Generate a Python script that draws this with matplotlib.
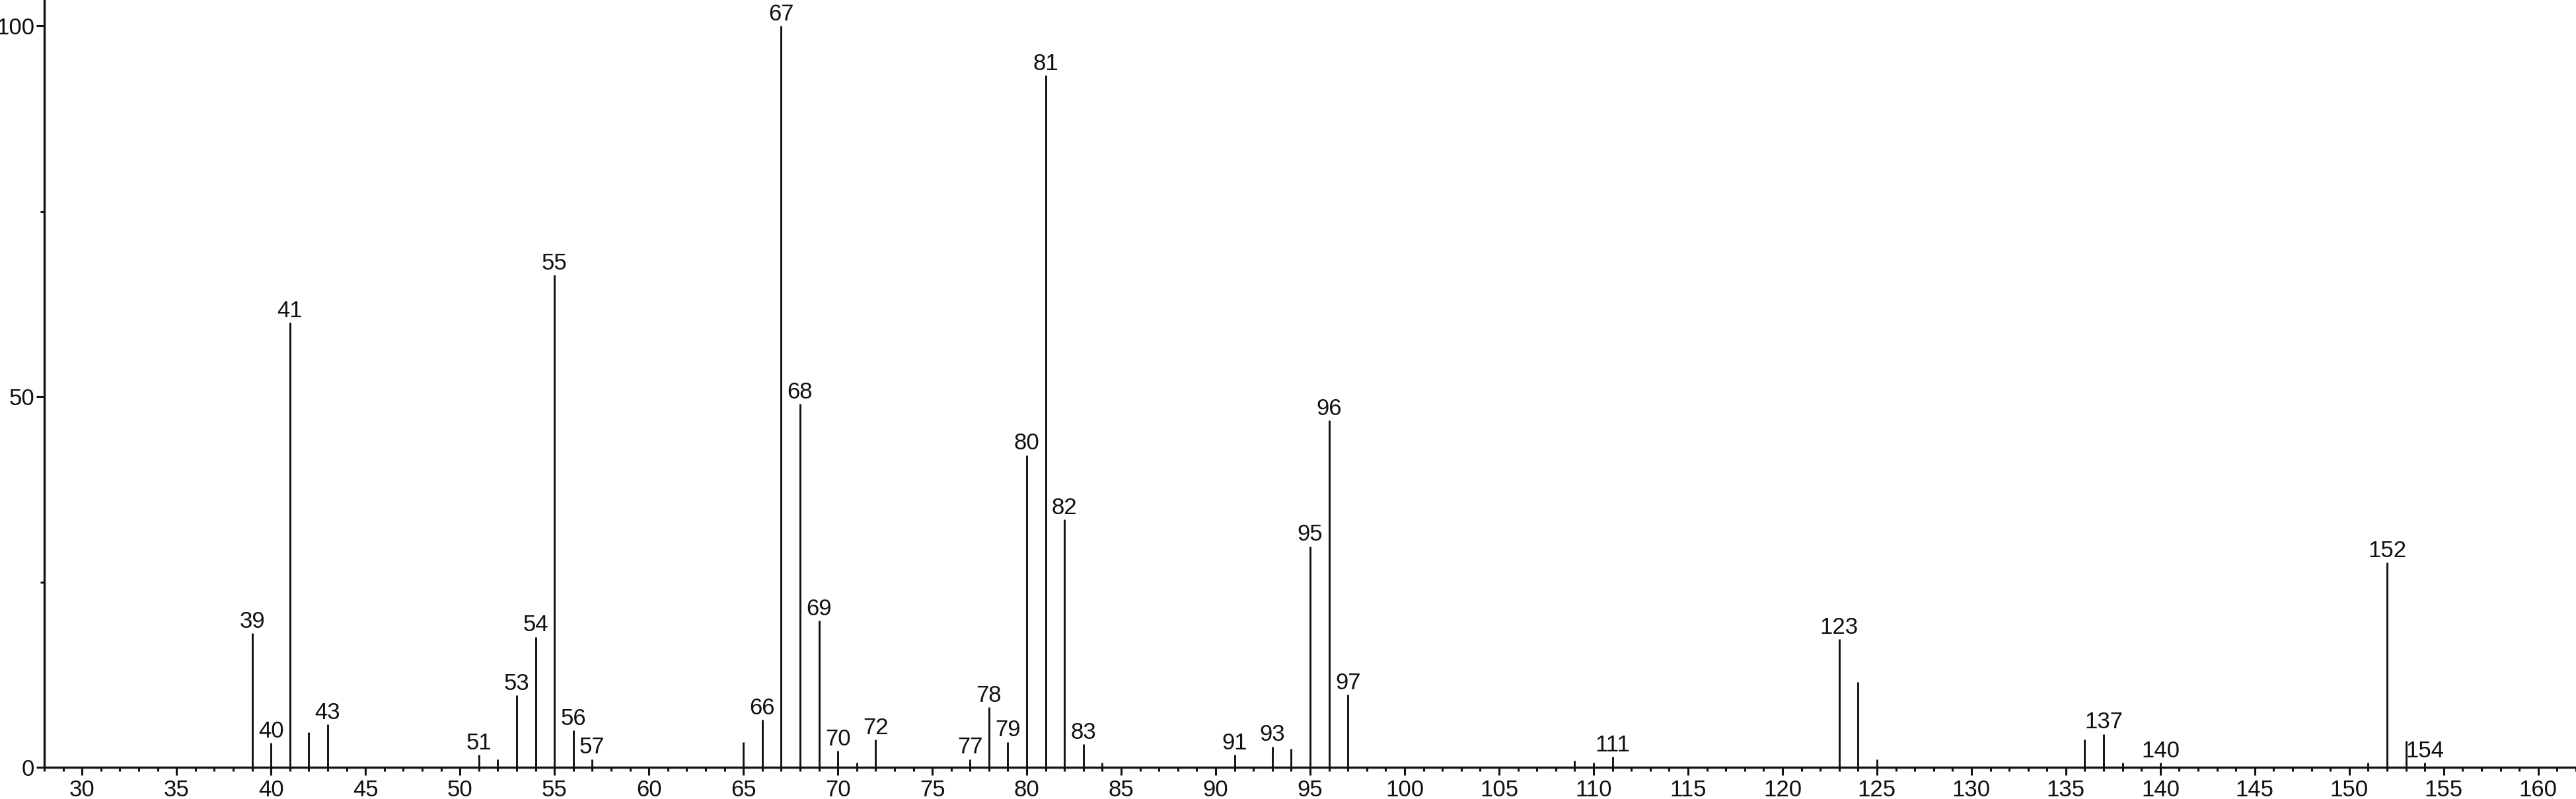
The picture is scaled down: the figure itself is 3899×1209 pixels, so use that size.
import matplotlib
matplotlib.use('Agg')
import matplotlib.pyplot as plt
from matplotlib.ticker import MultipleLocator

mz = [39, 40, 41, 42, 43, 51, 52, 53, 54, 55, 56, 57,
      65, 66, 67, 68, 69, 70, 71, 72, 77, 78, 79, 80, 81, 82, 83, 84,
      91, 93, 94, 95, 96, 97, 109, 110, 111,
      123, 124, 125, 136, 137, 138, 140, 151, 152, 153, 154]
intensity = [18.1, 3.3, 60.0, 4.7, 5.8, 1.7, 1.1, 9.7, 17.6, 66.4, 5.0, 1.1,
             3.4, 6.4, 100.0, 49.0, 19.8, 2.2, 0.6, 3.7, 1.1, 8.1, 3.4, 42.1, 93.3, 33.4, 3.1, 0.6,
             1.7, 2.8, 2.5, 29.8, 46.8, 9.8, 0.9, 0.6, 1.4,
             17.3, 11.5, 1.1, 3.7, 4.5, 0.6, 0.6, 0.6, 27.6, 3.6, 0.6]
labeled = [39, 40, 41, 43, 51, 53, 54, 55, 56, 57, 66, 67, 68, 69, 70, 72,
           77, 78, 79, 80, 81, 82, 83, 91, 93, 95, 96, 97, 111, 123, 137, 140, 152, 154]

plt.rcParams['font.family'] = ['Liberation Sans', 'DejaVu Sans']

fig = plt.figure(figsize=(38.99, 12.09), dpi=100)
ax = fig.add_axes([0.0172, 0.0397, 0.9828, 0.9603])

ax.vlines(mz, 0, intensity, color='#111111', linewidth=2.1)

lookup = dict(zip(mz, intensity))
for m in labeled:
    ax.annotate(str(m), xy=(m, lookup[m]), xytext=(0, 1), textcoords='offset points',
                ha='center', va='bottom', fontsize=25, color='#111111')

ax.set_xlim(28, 162)
ax.set_ylim(0, 103.5)

for s in ['top', 'right']:
    ax.spines[s].set_visible(False)
for s in ['left', 'bottom']:
    ax.spines[s].set_linewidth(2.4)
    ax.spines[s].set_color('#111111')

ax.xaxis.set_major_locator(MultipleLocator(5))
ax.xaxis.set_minor_locator(MultipleLocator(1))
ax.yaxis.set_major_locator(MultipleLocator(50))
ax.yaxis.set_minor_locator(MultipleLocator(25))

ax.tick_params(axis='both', which='major', direction='out', length=8.6, width=2.2,
               labelsize=25, colors='#111111')
ax.tick_params(axis='both', which='minor', direction='out', length=4.3, width=2.2, colors='#111111')
ax.tick_params(axis='x', which='major', pad=4)
ax.tick_params(axis='y', which='major', pad=2)

fig.savefig('out.png', dpi=100)
